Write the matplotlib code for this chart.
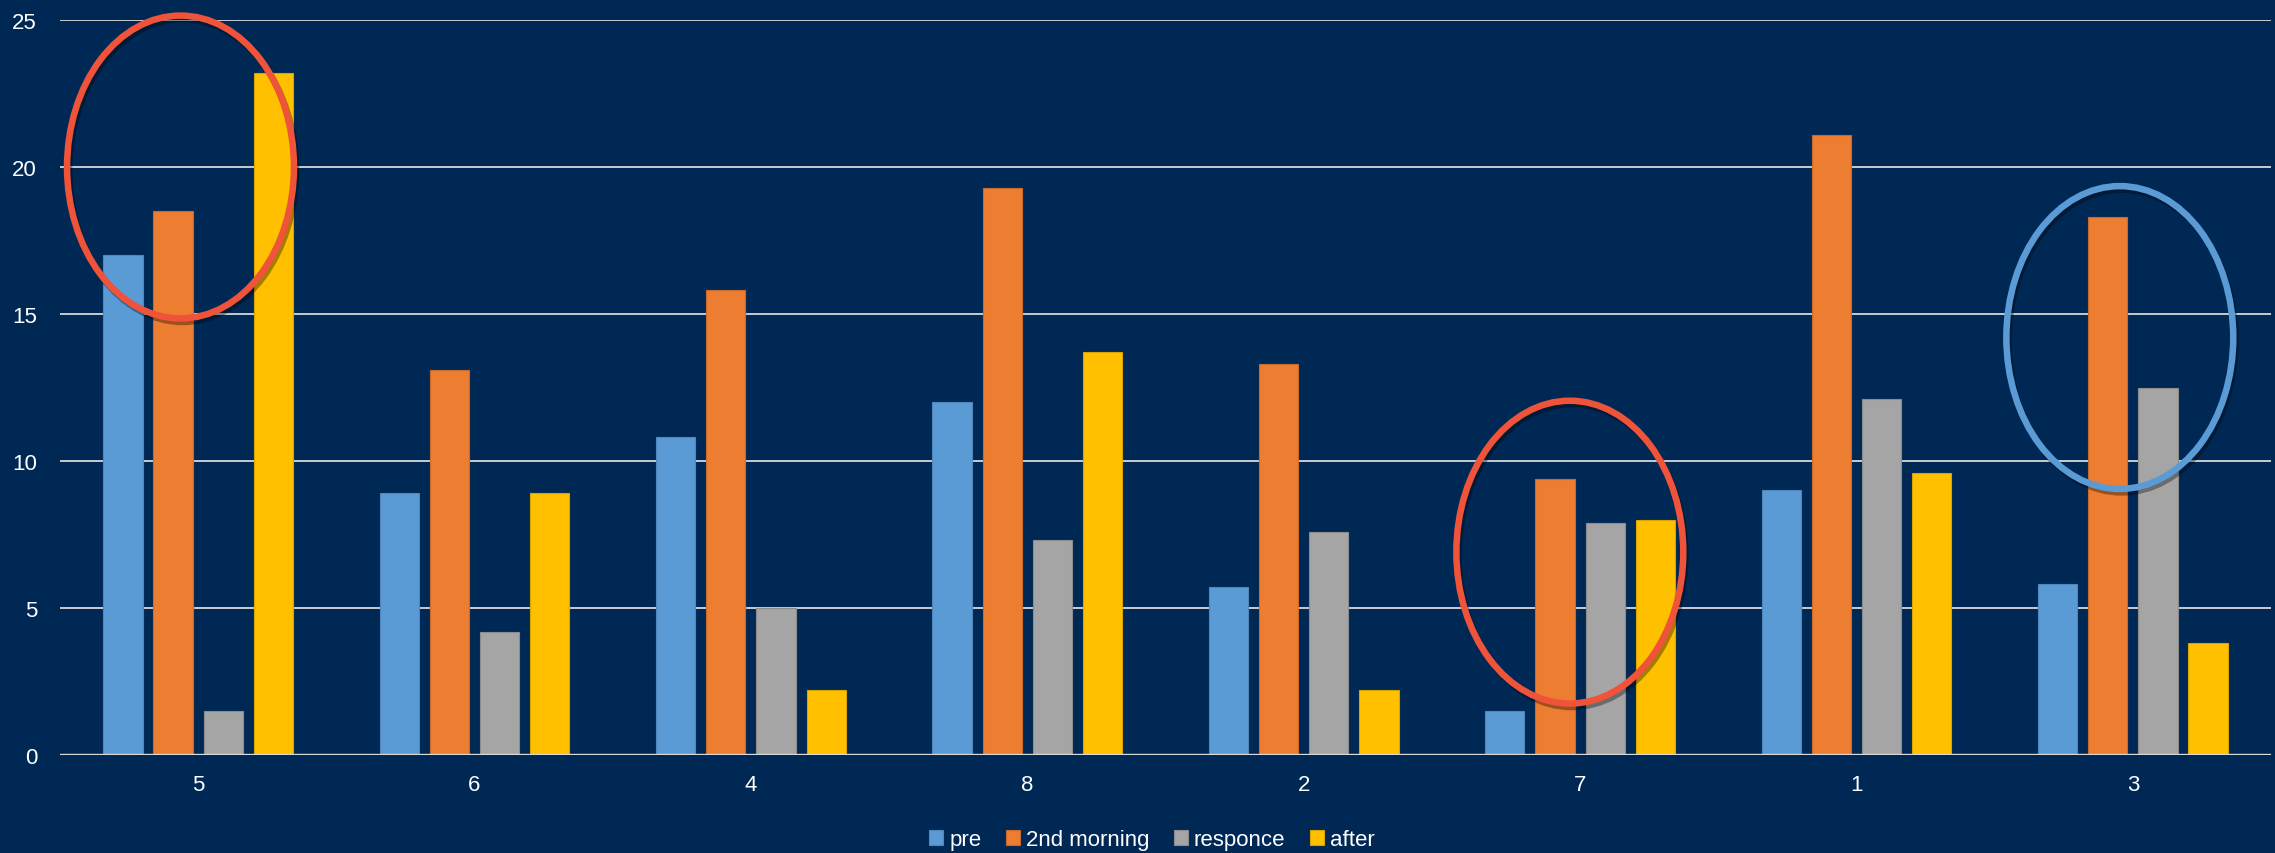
import matplotlib
matplotlib.use("Agg")
import matplotlib.pyplot as plt
from matplotlib.patches import Ellipse
import matplotlib.patheffects as pe
import numpy as np

plt.rcParams['font.family'] = ['Liberation Sans', 'DejaVu Sans']

# Data
groups = ["5", "6", "4", "8", "2", "7", "1", "3"]
series = ["pre", "2nd morning", "responce", "after"]
pre = [17.0, 8.9, 10.8, 12.0, 5.7, 1.5, 9.0, 5.8]
second_morning = [18.5, 13.1, 15.8, 19.3, 13.3, 9.4, 21.1, 18.3]
responce = [1.5, 4.2, 5.0, 7.3, 7.6, 7.9, 12.1, 12.5]
after = [23.2, 8.9, 2.2, 13.7, 2.2, 8.0, 9.6, 3.8]
yticks = [0, 5, 10, 15, 20, 25]

# Highlighted groups: (group label, center value, colour)
highlights = [("5", 20.0, "#EF5339"), ("7", 6.9, "#EF5339"), ("3", 14.2, "#5B9BD5")]
ring_shift = [-0.064, -0.037, -0.047]

bg = "#002855"
colors = ["#5B9BD5", "#ED7D31", "#A5A5A5", "#FFC000"]
edges = ["#4F87BA", "#C9692A", "#8C8C8C", "#D9A300"]

fig = plt.figure(figsize=(22.75, 8.54), dpi=100, facecolor=bg)
ax = fig.add_axes([0.02637, 0.11475, 0.97187, 0.86066], facecolor=bg)

x = np.arange(len(groups))
step = 0.1815
width = 0.142
values = [pre, second_morning, responce, after]
for i, (name, vals) in enumerate(zip(series, values)):
    ax.bar(x + (i - 1.5) * step, vals, width, color=colors[i],
           edgecolor=edges[i], linewidth=0.8, label=name, zorder=3)

ax.set_ylim(0, 25)
ax.set_xlim(-0.5, len(groups) - 0.5)
ax.set_yticks(yticks)
ax.set_xticks(x)
ax.set_xticklabels(groups)
ax.yaxis.grid(True, color="#D9D9D9", linewidth=1.3, zorder=1)
ax.set_axisbelow(True)
ax.axhline(0, color="#D9D9D9", linewidth=1.7, zorder=4)
for s in ax.spines.values():
    s.set_visible(False)
ax.tick_params(axis="both", length=0, colors="white", labelsize=16)
ax.tick_params(axis="y", pad=16.5)
ax.tick_params(axis="x", pad=14)

# Ellipses around the highlighted groups
for (label, yc, col), dx in zip(highlights, ring_shift):
    xc = groups.index(label) + dx
    ell = Ellipse((xc, yc), 0.821, 10.3, fill=False, edgecolor=col,
                  linewidth=4.7, zorder=5, clip_on=False)
    ell.set_path_effects([pe.SimpleLineShadow(offset=(1.5, -2.5), shadow_color="black",
                                              alpha=0.35),
                          pe.Normal()])
    ax.add_patch(ell)

leg = fig.legend(loc="center", bbox_to_anchor=(0.5064, 0.0155), ncol=4,
                 frameon=False, fontsize=16, handlelength=0.63, handleheight=0.63,
                 handletextpad=0.27, columnspacing=1.1, borderpad=0)
for t in leg.get_texts():
    t.set_color("white")

fig.savefig("out.png", dpi=100, facecolor=bg)
